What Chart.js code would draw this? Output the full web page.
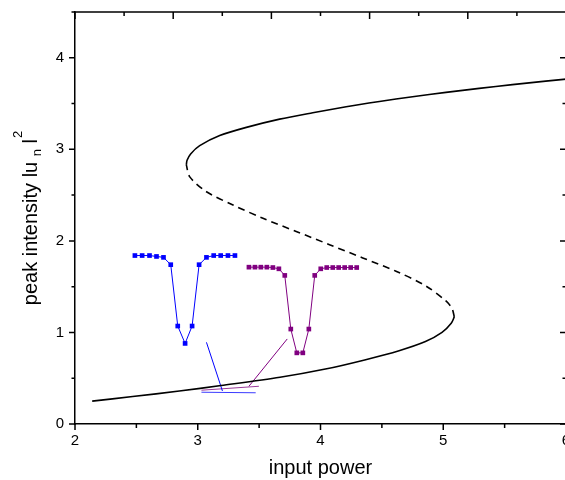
<!DOCTYPE html>
<html><head><meta charset="utf-8">
<script src="https://cdn.jsdelivr.net/npm/chart.js@4"></script>
<style>html,body{margin:0;padding:0;overflow:hidden;background:#fff}</style>
</head><body>
<canvas id="c" width="580" height="480"></canvas>
<script>
// ---- tick labels / tick positions ----
const xTickLabels = [2, 3, 4, 5, 6];
const yTickLabels = [0, 1, 2, 3, 4];
const xMinorTicks = [2, 2.5, 3, 3.5, 4, 4.5, 5, 5.5, 6];
const yMinorTicks = [0, 0.5, 1, 1.5, 2, 2.5, 3, 3.5, 4, 4.5];
const topTicks = [2, 2.4, 2.8, 3.2, 3.6, 4, 4.4, 4.8, 5.2, 5.6, 6];

// ---- S-shaped response curve ----
const lowerX = [2.14, 2.47, 2.85, 3.19, 3.67, 4.04, 4.36, 4.64, 4.855, 4.99, 5.065, 5.09];
const lowerY = [0.25, 0.30, 0.36, 0.42, 0.51, 0.60, 0.70, 0.80, 0.90, 1.00, 1.10, 1.17];
const middleX = [5.09, 5.072, 5.022, 4.859, 4.615, 4.344, 4.073, 3.802, 3.531, 3.287, 3.071, 2.935, 2.907];
const middleY = [1.17, 1.26, 1.344, 1.507, 1.669, 1.814, 1.959, 2.103, 2.247, 2.392, 2.537, 2.699, 2.83];
const upperX = [2.907, 2.913, 2.942, 3.016, 3.179, 3.396, 3.667, 3.937, 4.209, 4.48, 4.75, 5.022, 5.293, 5.563, 5.835, 6.0];
const upperY = [2.83, 2.88, 2.95, 3.04, 3.15, 3.24, 3.33, 3.40, 3.465, 3.522, 3.575, 3.622, 3.666, 3.707, 3.745, 3.767];

// ---- inset profiles ----
const blueX = [2.488, 2.547, 2.607, 2.664, 2.721, 2.780, 2.837, 2.897, 2.954, 3.011, 3.071, 3.130, 3.187, 3.246, 3.303];
const blueY = [1.84, 1.84, 1.84, 1.83, 1.82, 1.74, 1.07, 0.88, 1.07, 1.74, 1.82, 1.84, 1.84, 1.84, 1.84];
const purpleX = [3.417, 3.466, 3.514, 3.563, 3.612, 3.661, 3.709, 3.758, 3.807, 3.856, 3.905, 3.953, 4.002, 4.051, 4.100, 4.148, 4.197, 4.246, 4.295];
const purpleY = [1.713, 1.713, 1.713, 1.713, 1.709, 1.695, 1.623, 1.037, 0.777, 0.777, 1.037, 1.623, 1.695, 1.709, 1.709, 1.709, 1.709, 1.709, 1.709];

// ---- pointer lines ----
const blueLinkX = [3.071, 3.201], blueLinkY = [0.892, 0.361];
const blueBaseX = [3.030, 3.472], blueBaseY = [0.347, 0.341];
const purpleLinkX = [3.729, 3.417], purpleLinkY = [0.929, 0.412];
const purpleBaseX = [3.030, 3.498], purpleBaseY = [0.369, 0.412];

const xMin = 2, xMax = 6, yMin = 0, yMax = 4.5;
const FONT = "'Liberation Sans', Arial, sans-serif";

const pts = (xs, ys) => xs.map((v, i) => ({x: v, y: ys[i]}));
const line = (xs, ys, color, extra) => Object.assign({
  data: pts(xs, ys), showLine: true, borderColor: color, backgroundColor: color,
  borderWidth: 1, pointRadius: 0, tension: 0
}, extra || {});

const framePlugin = {
  id: 'frameTicks',
  afterDraw(chart) {
    const {ctx, scales: {x, y}} = chart;
    const L = x.getPixelForValue(xMin), R = x.getPixelForValue(xMax);
    const B = y.getPixelForValue(yMin), T = y.getPixelForValue(yMax);
    ctx.save();
    ctx.strokeStyle = '#000';
    ctx.lineWidth = 1.5;
    ctx.beginPath();
    ctx.moveTo(L, T); ctx.lineTo(R, T);
    ctx.moveTo(R, T); ctx.lineTo(R, B);
    xMinorTicks.forEach(v => {
      const px = x.getPixelForValue(v), len = xTickLabels.includes(v) ? 6 : 4;
      ctx.moveTo(px, B); ctx.lineTo(px, B + len);
    });
    yMinorTicks.forEach(v => {
      const py = y.getPixelForValue(v), len = yTickLabels.includes(v) ? 6 : 3.5;
      ctx.moveTo(L, py); ctx.lineTo(L - len, py);
      ctx.moveTo(R, py); ctx.lineTo(R - len, py);
    });
    topTicks.forEach((v, i) => {
      const px = x.getPixelForValue(v), len = i % 2 === 0 ? 7 : 4;
      ctx.moveTo(px, T); ctx.lineTo(px, T + len);
    });
    ctx.stroke();

    // y axis title with subscript / superscript
    const main = 'peak intensity lu', sub = 'n', mid = 'l', sup = '2';
    const big = '20px ' + FONT, small = '13px ' + FONT;
    ctx.font = big;
    const wMain = ctx.measureText(main).width, wSp = ctx.measureText(' ').width, wMid = ctx.measureText(mid).width;
    ctx.font = small;
    const wSub = ctx.measureText(sub).width, wSup = ctx.measureText(sup).width;
    const total = wMain + wSp + wSub + wSp + wMid + 1 + wSup;
    const cy = (T + B) / 2;
    ctx.translate(37, cy);
    ctx.rotate(-Math.PI / 2);
    ctx.fillStyle = '#000';
    ctx.textBaseline = 'alphabetic';
    ctx.textAlign = 'left';
    let cx = -total / 2;
    ctx.font = big; ctx.fillText(main, cx, 0); cx += wMain + wSp;
    ctx.font = small; ctx.fillText(sub, cx, 4); cx += wSub + wSp;
    ctx.font = big; ctx.fillText(mid, cx, 0); cx += wMid + 1;
    ctx.font = small; ctx.fillText(sup, cx, -15);
    ctx.restore();
  }
};

new Chart(document.getElementById('c'), {
  type: 'scatter',
  data: {
    datasets: [
      line(lowerX, lowerY, '#000', {borderWidth: 1.6, tension: 0.3}),
      line(middleX, middleY, '#000', {borderWidth: 1.6, tension: 0.3, borderDash: [7, 5]}),
      line(upperX, upperY, '#000', {borderWidth: 1.6, tension: 0.3}),
      line(blueX, blueY, '#0000ff', {pointRadius: 3.3, pointStyle: 'rect', pointBorderWidth: 0}),
      line(purpleX, purpleY, '#800080', {pointRadius: 3.3, pointStyle: 'rect', pointBorderWidth: 0}),
      line(blueLinkX, blueLinkY, '#0000ff'),
      line(blueBaseX, blueBaseY, '#3a3aff'),
      line(purpleLinkX, purpleLinkY, '#800080'),
      line(purpleBaseX, purpleBaseY, '#9a3a9a')
    ]
  },
  options: {
    responsive: false,
    animation: false,
    layout: {padding: {left: 0, right: 14, top: 9, bottom: 0}},
    plugins: {legend: {display: false}, tooltip: {enabled: false}},
    scales: {
      x: {
        type: 'linear', min: xMin, max: xMax,
        afterBuildTicks: s => { s.ticks = xTickLabels.map(v => ({value: v})); },
        afterFit: s => { s.height = 56; },
        ticks: {color: '#000', font: {family: FONT, size: 15}, padding: 2, callback: v => String(v)},
        grid: {drawOnChartArea: false, drawTicks: true, tickLength: 6, tickColor: 'rgba(0,0,0,0)', color: 'rgba(0,0,0,0)'},
        border: {display: true, color: '#000', width: 1.5},
        title: {display: true, text: 'input power', color: '#000', font: {family: FONT, size: 20}, padding: {top: 4, bottom: 0}}
      },
      y: {
        type: 'linear', min: yMin, max: yMax,
        afterBuildTicks: s => { s.ticks = yTickLabels.map(v => ({value: v})); },
        afterFit: s => { s.width = 75; },
        ticks: {color: '#000', font: {family: FONT, size: 15}, padding: 3, callback: v => String(v)},
        grid: {drawOnChartArea: false, drawTicks: true, tickLength: 8, tickColor: 'rgba(0,0,0,0)', color: 'rgba(0,0,0,0)'},
        border: {display: true, color: '#000', width: 1.5}
      }
    }
  },
  plugins: [framePlugin]
});
</script>
</body></html>
